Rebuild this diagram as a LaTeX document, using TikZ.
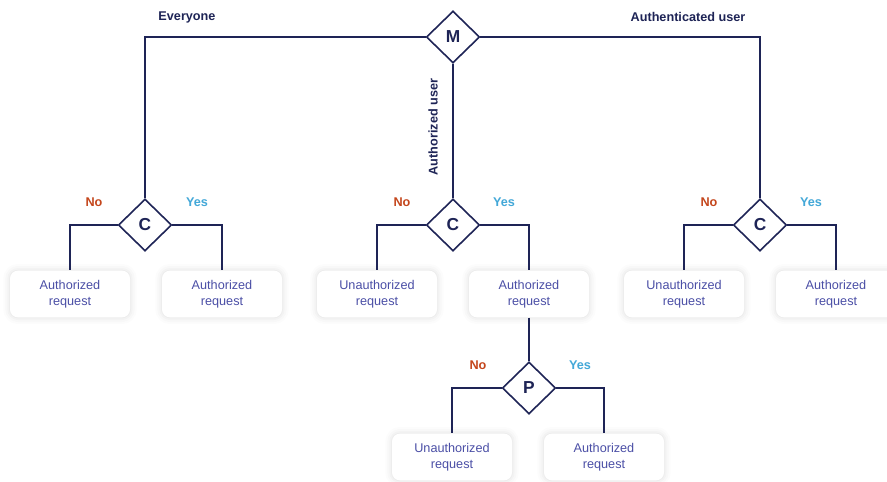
\documentclass[tikz,border=0pt]{standalone}
\usepackage{fontspec}
\setmainfont{Liberation Sans}
\usetikzlibrary{shapes.geometric}
\definecolor{navy}{HTML}{1E2456}
\definecolor{boxtext}{HTML}{4B4FA6}
\definecolor{noorange}{HTML}{C4461C}
\definecolor{yesblue}{HTML}{43A8D8}
\tikzset{
  gate/.style={diamond,draw=navy,fill=white,line width=1.2pt,
               minimum width=40pt,minimum height=39pt,inner sep=0pt,
               font=\fontsize{13}{15}\selectfont\bfseries,text=navy},
  softshadow/.style={preaction={draw=black,draw opacity=0.012,line width=10pt},
                     preaction={draw=black,draw opacity=0.015,line width=7pt},
                     preaction={draw=black,draw opacity=0.02,line width=4pt},
                     preaction={draw=black,draw opacity=0.025,line width=1.5pt}},
  resultbox/.style={rounded corners=6pt,fill=white,softshadow,
                    minimum width=90pt,minimum height=35pt,align=center,
                    font=\fontsize{9.5}{12}\selectfont,text=boxtext},
  wire/.style={draw=navy,line width=1.2pt},
  nolabel/.style={font=\fontsize{9.5}{11}\selectfont\bfseries,text=noorange},
  yeslabel/.style={font=\fontsize{9.5}{11}\selectfont\bfseries,text=yesblue},
  pathlabel/.style={font=\fontsize{9.5}{11}\selectfont\bfseries,text=navy}
}

\begin{document}
\begin{tikzpicture}[x=0.75pt,y=-0.75pt]
  \useasboundingbox (0,0) rectangle (887,481);
  \fill[white] (0,0) rectangle (887,481);

  % decision nodes
  \node[gate] (m) at (453,37) {M};
  \node[gate] (cleft) at (145,225) {C};
  \node[gate] (cmid) at (453,225) {C};
  \node[gate] (cright) at (760,225) {C};

  % results
  \node[resultbox] (leftno) at (70,294) {Authorized\\request};
  \node[resultbox] (leftyes) at (222,294) {Authorized\\request};
  \node[resultbox] (midno) at (377,294) {Unauthorized\\request};
  \node[resultbox] (midyes) at (529,294) {Authorized\\request};
  \node[resultbox] (rightno) at (684,294) {Unauthorized\\request};
  \node[resultbox] (rightyes) at (836,294) {Authorized\\request};

  \node[gate] (p) at (529,388) {P};
  \node[resultbox] (pno) at (452,457) {Unauthorized\\request};
  \node[resultbox] (pyes) at (604,457) {Authorized\\request};

  % connectors
  \draw[wire] (m.west) -| (cleft.north);
  \draw[wire] (m.east) -| (cright.north);
  \draw[wire] (m.south) -- (cmid.north);
  \draw[wire] (cleft.west) -| (leftno.north);
  \draw[wire] (cleft.east) -| (leftyes.north);
  \draw[wire] (cmid.west) -| (midno.north);
  \draw[wire] (cmid.east) -| (midyes.north);
  \draw[wire] (cright.west) -| (rightno.north);
  \draw[wire] (cright.east) -| (rightyes.north);
  \draw[wire] (midyes.south) -- (p.north);
  \draw[wire] (p.west) -| (pno.north);
  \draw[wire] (p.east) -| (pyes.north);

  % labels
  \node[pathlabel] (everyone) at (187,17) {Everyone};
  \node[pathlabel] (authenticated) at (688,17) {Authenticated user};
  \node[pathlabel,rotate=90] (authorized) at (433,127) {Authorized user};
  \foreach \nx/\yx/\ly in {94/197/202,402/504/202,709/811/202,478/580/365} {
    \node[nolabel] at (\nx,\ly) {No};
    \node[yeslabel] at (\yx,\ly) {Yes};
  }
\end{tikzpicture}
\end{document}
